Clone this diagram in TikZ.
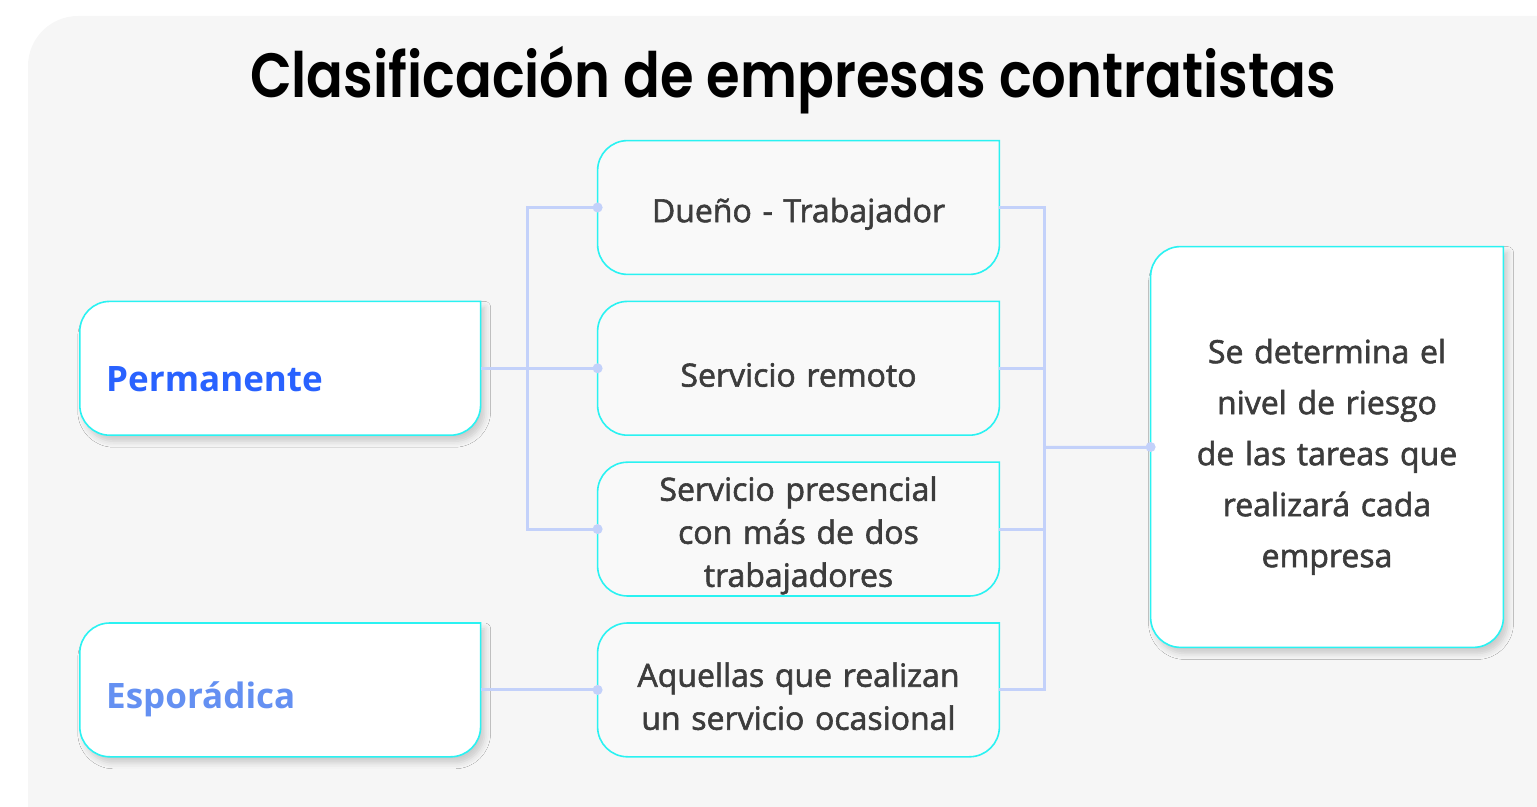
\documentclass[tikz,border=0pt]{standalone}
\usepackage{fontspec}
\setmainfont{Open Sans}
\newfontfamily\titlefont{Poppins}[UprightFont=* SemiBold]
\newfontfamily\bodyfont{Open Sans}[FakeBold=1.8]
\newfontfamily\kindfont{Open Sans}
\usepackage{tikz}
\usetikzlibrary{positioning,backgrounds,shadows.blur}
\definecolor{panelgray}{HTML}{F6F6F6}
\definecolor{boxgray}{HTML}{F9F9F9}
\definecolor{edgecyan}{HTML}{2AF2F2}
\definecolor{linkblue}{HTML}{C3D1FA}
\definecolor{inkgray}{HTML}{3C3C3C}
\definecolor{permblue}{HTML}{2962FF}
\definecolor{esporblue}{HTML}{6490F2}
% box outline: every corner rounded except the top right one
\newcommand{\tabshape}[1]{(#1.north east) -- ([xshift=15pt]#1.north west)
 arc[start angle=90,end angle=180,radius=15pt] -- ([yshift=15pt]#1.south west)
 arc[start angle=180,end angle=270,radius=15pt] -- ([xshift=-15pt]#1.south east)
 arc[start angle=270,end angle=360,radius=15pt] -- cycle}
\begin{document}
\begin{tikzpicture}[x=0.5pt,y=-0.5pt,
 node distance=13.5pt and 58.5pt,
 item/.style={minimum width=200.5pt,minimum height=66.5pt,inner sep=0pt,align=center,text width=196pt,
   font=\bodyfont\fontsize{16}{21.5}\selectfont,text=inkgray,execute at begin node={\rule{0pt}{18.5pt}}},
 kind/.style={minimum width=200pt,minimum height=66.5pt,inner sep=0pt,align=left,text width=174pt,
   font=\kindfont\bfseries\fontsize{17.5}{21}\selectfont,execute at begin node={\rule{0pt}{23pt}}},
 result/.style={item,minimum width=176pt,minimum height=200pt,text width=172pt,
   font=\bodyfont\fontsize{16}{25.5}\selectfont,execute at begin node={\rule{0pt}{22pt}}},
 tab/.style={draw=edgecyan,line width=0.8pt},
 link/.style={draw=linkblue,line width=1.5pt}
]
\useasboundingbox (0,0) rectangle (1537,807);
\begin{scope}[on background layer]
 \fill[panelgray,rounded corners=25pt] (28,16) rectangle (1640,880);
\end{scope}

\node[anchor=base,font=\titlefont\fontsize{27.2}{32}\selectfont] (title) at (793,98)
  {\scalebox{1}[1.15]{Clasificación de empresas contratistas}};

\node[item] (dueno) at (798.5,207.5) {Dueño - Trabajador};
\node[item,below=of dueno] (remoto) {Servicio remoto};
\node[item,below=of remoto] (presencial) {Servicio presencial\\con más de dos\\trabajadores};
\node[item,below=of presencial] (ocasional) {Aquellas que realizan\\un servicio ocasional};
\node[kind,text=permblue,left=of remoto] (perm) {Permanente};
\node[kind,text=esporblue,left=of ocasional] (espor) {Esporádica};
\node[result] (riesgo) at (1327,447) {Se determina el\\nivel de riesgo\\de las tareas que\\realizará cada\\empresa};

\begin{scope}[on background layer]
 \foreach \n in {perm,espor,riesgo}
  \draw[tab,fill=white,blur shadow={shadow xshift=2pt,shadow yshift=-3pt,shadow blur radius=3pt,shadow opacity=18}] \tabshape{\n};
 \foreach \n in {dueno,remoto,presencial,ocasional}
  \draw[tab,fill=boxgray] \tabshape{\n};
\end{scope}

\coordinate (lbus) at (527,367.5);
\coordinate (rbus) at (1044,447.5);
\draw[link] (perm) -- (remoto);
\draw[link] (dueno.west) -| (lbus) |- (presencial.west);
\draw[link] (espor) -- (ocasional);
\foreach \n in {dueno,remoto,presencial,ocasional}
 \draw[link] (\n.east) -| (rbus);
\draw[link] (rbus) -- (riesgo);
\foreach \n in {dueno,remoto,presencial,ocasional,riesgo}
 \fill[linkblue] (\n.west) circle (2.5pt);
\end{tikzpicture}
\end{document}
